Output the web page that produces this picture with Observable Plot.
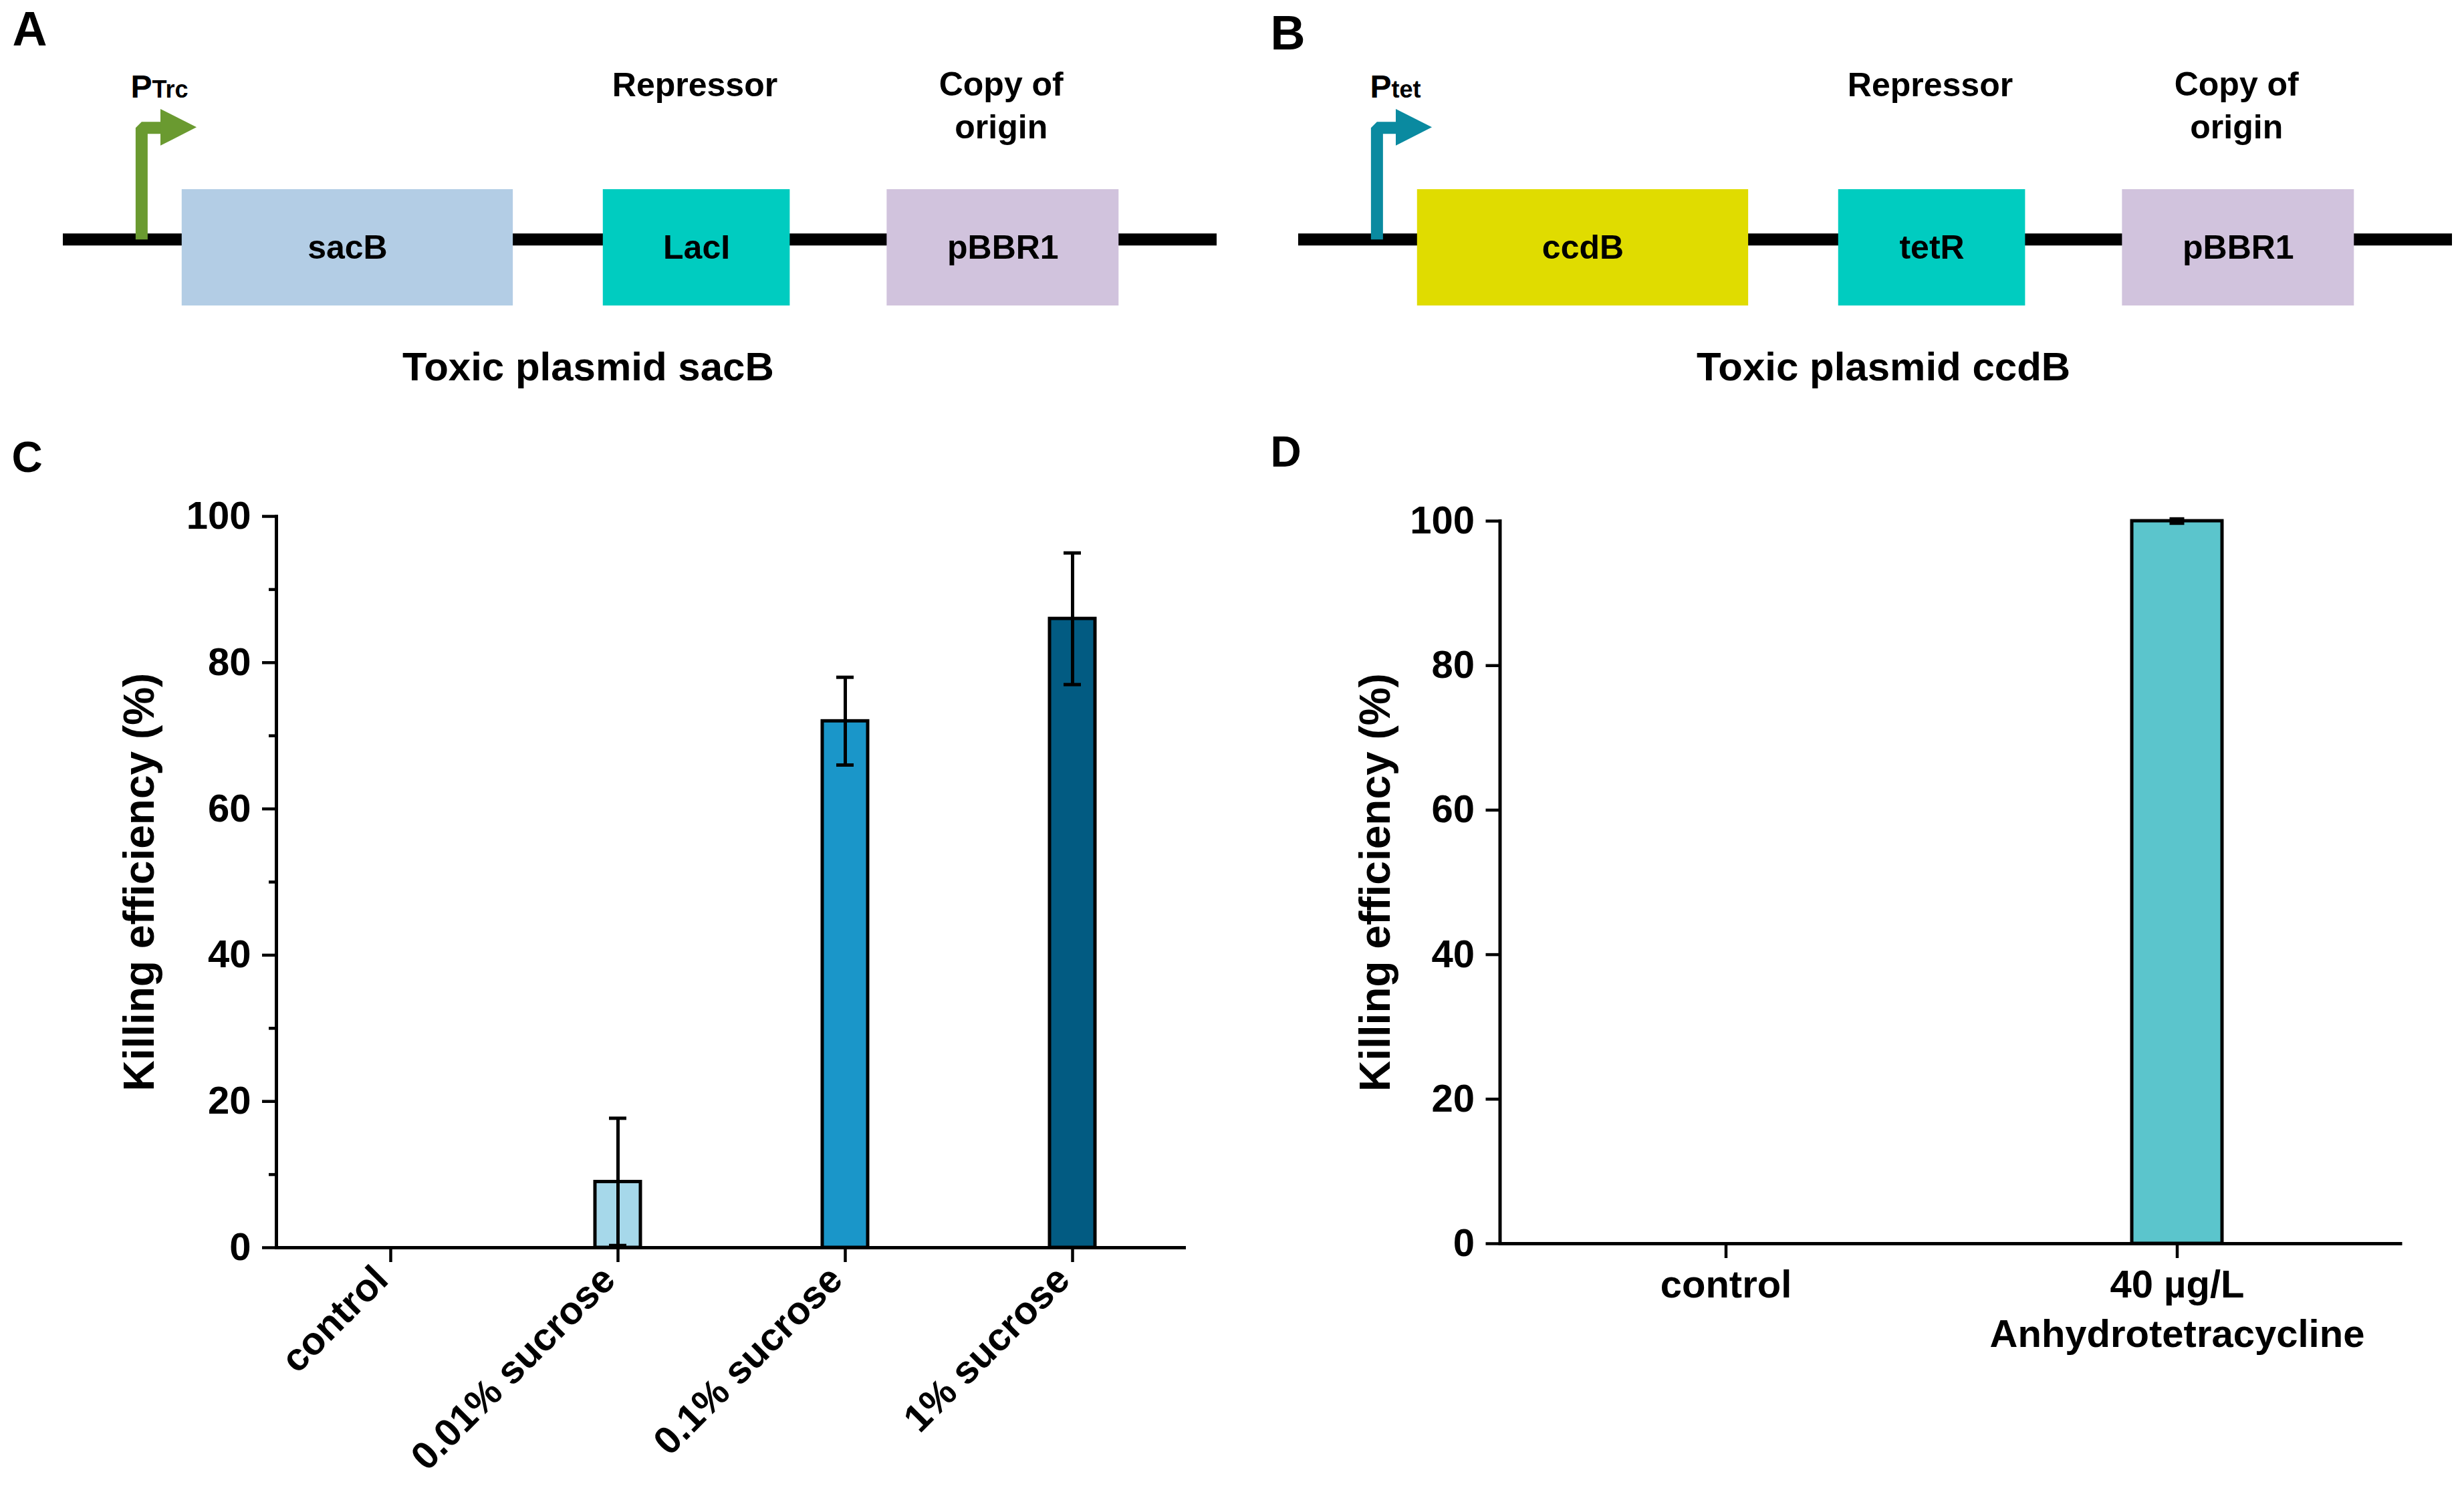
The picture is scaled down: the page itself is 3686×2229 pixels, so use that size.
<!DOCTYPE html>
<html>
<head>
<meta charset="utf-8">
<script src="https://cdn.jsdelivr.net/npm/d3@7"></script>
<script src="https://cdn.jsdelivr.net/npm/@observablehq/plot@0.6"></script>
<style>
  html, body { margin: 0; padding: 0; background: #fff; }
  #fig { position: relative; width: 3686px; height: 2229px; background: #fff; overflow: hidden; }
  .panel { position: absolute; }
</style>
</head>
<body>
<div id="fig">
  <div class="panel" id="pA" style="left:0;top:0;width:1843px;height:620px"></div>
  <div class="panel" id="pB" style="left:1843px;top:0;width:1843px;height:620px"></div>
  <div class="panel" id="pC" style="left:0;top:620px;width:1843px;height:1609px"></div>
  <div class="panel" id="pD" style="left:1843px;top:620px;width:1843px;height:1609px"></div>
</div>
<script>
// ---------- DATA ----------
// Plasmid maps (positions in arbitrary track units 0–1000)
const genesA = ["sacB", "LacI", "pBBR1"];
const genesB = ["ccdB", "tetR", "pBBR1"];
const geneStart = [103, 468, 714];
const geneEnd = [390, 630, 915];
const backbone = [{start: 0, end: 1000}];
const promoterPos = 68;
const headerLabels = ["Repressor", "Copy of\norigin"];
const headerPos = [547.5, 813];
const plasmidTitles = ["Toxic plasmid sacB", "Toxic plasmid ccdB"];
const plasmidTitlePos = [455, 507];
const promoterSubs = ["Trc", "tet"];

// Panel C: sucrose induction
const sucroseCats = ["control", "0.01% sucrose", "0.1% sucrose", "1% sucrose"];
const sucroseMean = [0, 9.0, 72, 86];
const sucroseErr = [0, 8.7, 6, 9];

// Panel D: anhydrotetracycline induction
const atcCats = ["control", "40 µg/L\nAnhydrotetracycline"];
const atcMean = [0, 100];
const atcErr = [0, 0.3];

const yTicks = [0, 20, 40, 60, 80, 100];
const yMinorTicks = [10, 30, 50, 70, 90];
const yTitle = "Killing efficiency (%)";

// ---------- STYLES ----------
const geneColorsA = ["#b3cde5", "#00ccc0", "#d1c3dd"];
const geneColorsB = ["#e0dc00", "#00ccc0", "#d1c3dd"];
const arrowColorA = "#6a9a30";
const arrowColorB = "#0a8aa0";
const sucroseColors = ["#ffffff", "#a6d8ea", "#1a96c9", "#025b82"];
const atcColors = ["#ffffff", "#5bc5cc"];
const FONT = '"Liberation Sans", Arial, Helvetica, sans-serif';
const svgStyle = {fontFamily: FONT, fontWeight: "bold", color: "black", background: "transparent", maxWidth: "none", overflow: "visible"};

// ---------- DIAGRAMS ----------
function diagram({genes, colors, arrowColor, sub, pSubX, pX, title, titleX, rangeX, letter, letterDx, letterDy}) {
  const feats = genes.map((g, i) => ({name: g, start: geneStart[i], end: geneEnd[i]}));
  const backboneLevel = 0.14;
  const armLevel = 2.06;
  const armEnd = 86;
  const stem = [
    {x: promoterPos, y: backboneLevel},
    {x: promoterPos, y: armLevel},
    {x: armEnd, y: armLevel}
  ];
  const head = [
    {x: 84.6, y1: 1.75, y2: 2.38},
    {x: 115.9, y1: 2.065, y2: 2.065}
  ];
  const headers = headerLabels.map((t, i) => ({t, x: headerPos[i]}));
  return Plot.plot({
    width: 1843, height: 620, margin: 0,
    x: {domain: [0, 1000], range: rangeX, axis: null},
    y: {domain: [-1, 1], range: [457, 283], axis: null},
    color: {domain: genes, range: colors},
    style: svgStyle,
    marks: [
      Plot.ruleY(backbone, {x1: "start", x2: "end", y: () => backboneLevel, stroke: "black", strokeWidth: 18}),
      Plot.line(stem, {x: "x", y: "y", stroke: arrowColor, strokeWidth: 18, strokeLinejoin: "miter", strokeLinecap: "butt"}),
      Plot.areaY(head, {x: "x", y1: "y1", y2: "y2", fill: arrowColor}),
      Plot.rect(feats, {x1: "start", x2: "end", y1: () => -1, y2: () => 1, fill: "name"}),
      Plot.text(feats, {x: d => (d.start + d.end) / 2, y: () => 0, text: "name", fontSize: 50, fontWeight: "bold", lineAnchor: "middle", fill: "black"}),
      Plot.text(["P"], {x: () => pX, y: () => 2.586, text: d => d, fontSize: 48, fontWeight: "bold", textAnchor: "start", lineAnchor: "bottom", fill: "black"}),
      Plot.text([sub], {x: () => pSubX, y: () => 2.586, text: d => d, fontSize: 36, fontWeight: "bold", textAnchor: "start", lineAnchor: "bottom", fill: "black"}),
      Plot.text(headers, {x: "x", y: d => d.t.includes("\n") ? 1.874 : 2.609, text: "t", fontSize: 50, fontWeight: "bold", lineAnchor: "bottom", lineHeight: 1.28, fill: "black"}),
      Plot.text([title], {x: () => titleX, y: () => -2.276, text: d => d, fontSize: 60, fontWeight: "bold", lineAnchor: "bottom", fill: "black"}),
      Plot.text([letter], {frameAnchor: "top-left", dx: letterDx, dy: letterDy, text: d => d, fontSize: 72, fontWeight: "bold", textAnchor: "start", lineAnchor: "top", fill: "black"})
    ]
  });
}

document.getElementById("pA").append(diagram({
  genes: genesA, colors: geneColorsA, arrowColor: arrowColorA, sub: promoterSubs[0],
  pX: 58.5, pSubX: 77, title: plasmidTitles[0], titleX: plasmidTitlePos[0],
  rangeX: [94, 1820], letter: "A", letterDx: 18, letterDy: 16
}));
document.getElementById("pB").append(diagram({
  genes: genesB, colors: geneColorsB, arrowColor: arrowColorB, sub: promoterSubs[1],
  pX: 62, pSubX: 80.5, title: plasmidTitles[1], titleX: plasmidTitlePos[1],
  rangeX: [99, 1825], letter: "B", letterDx: 57, letterDy: 22
}));

// ---------- BAR CHARTS ----------
function barChart({cats, means, errs, colors, margins, letter, letterDx, letterDy, titleDx, rotated, capWidth}) {
  const data = cats.map((c, i) => ({cat: c, value: means[i], err: errs[i]}));
  const withErr = data.filter(d => d.err > 0);
  const plotW = 1843 - margins.left - margins.right;
  const step = plotW / (cats.length - 0.8 + 0.8);
  const bw = step * 0.2;
  const capInset = (bw - capWidth) / 2;
  const labelMarks = rotated
    ? Plot.text(cats, {x: d => d, text: d => d, frameAnchor: "bottom", rotate: -45, textAnchor: "end", lineAnchor: "top", dx: -30, dy: 22, fontSize: 58, fontWeight: "bold", fill: "black"})
    : Plot.text(cats, {x: d => d, text: d => d, frameAnchor: "bottom", textAnchor: "middle", lineAnchor: "top", dy: 28, fontSize: 58, fontWeight: "bold", lineHeight: 1.28, fill: "black"});
  const marks = [
    Plot.barY(data, {x: "cat", y: "value", fill: "cat", stroke: "black", strokeWidth: 5}),
    Plot.ruleX(withErr, {x: "cat", y1: d => d.value - d.err, y2: d => d.value + d.err, stroke: "black", strokeWidth: 5}),
    Plot.tickY(withErr, {x: "cat", y: d => d.value + d.err, stroke: "black", strokeWidth: 5, insetLeft: capInset, insetRight: capInset}),
    Plot.tickY(withErr, {x: "cat", y: d => d.value - d.err, stroke: "black", strokeWidth: 5, insetLeft: capInset, insetRight: capInset}),
    Plot.ruleY([0], {stroke: "black", strokeWidth: 5}),
    Plot.frame({anchor: "left", stroke: "black", strokeWidth: 5}),
    Plot.axisY({ticks: yTicks, tickSize: 21, tickPadding: 17, fontSize: 58, fontWeight: "bold", strokeWidth: 4.5, label: null, fill: "black"}),
    Plot.axisX({tickSize: 22, tickFormat: () => "", strokeWidth: 4.5, label: null}),
    labelMarks,
    Plot.text([yTitle], {frameAnchor: "left", dx: titleDx, rotate: -90, textAnchor: "middle", lineAnchor: "middle", text: d => d, fontSize: 64, fontWeight: "bold", fill: "black"}),
    Plot.text([letter], {frameAnchor: "top-left", dx: letterDx, dy: letterDy, text: d => d, fontSize: 64, fontWeight: "bold", textAnchor: "start", lineAnchor: "top", fill: "black"})
  ];
  if (rotated) {
    marks.splice(7, 0, Plot.axisY({ticks: yMinorTicks, tickSize: 11, tickFormat: () => "", strokeWidth: 4.5, label: null}));
  }
  return Plot.plot({
    width: 1843, height: 1609,
    marginLeft: margins.left, marginRight: margins.right, marginTop: margins.top, marginBottom: margins.bottom,
    x: {domain: cats, paddingInner: 0.8, paddingOuter: 0.4, axis: null},
    y: {domain: [0, 100], axis: null, label: null},
    color: {domain: cats, range: colors},
    style: svgStyle,
    marks
  });
}

document.getElementById("pC").append(barChart({
  cats: sucroseCats, means: sucroseMean, errs: sucroseErr, colors: sucroseColors,
  margins: {left: 413, right: 69, top: 152, bottom: 363},
  letter: "C", letterDx: -396, letterDy: -112, titleDx: -204, rotated: true, capWidth: 26
}));
document.getElementById("pD").append(barChart({
  cats: atcCats, means: atcMean, errs: atcErr, colors: atcColors,
  margins: {left: 400.5, right: 92.5, top: 159, bottom: 369},
  letter: "D", letterDx: -343.5, letterDy: -127, titleDx: -185, rotated: false, capWidth: 22
}));
</script>
</body>
</html>
